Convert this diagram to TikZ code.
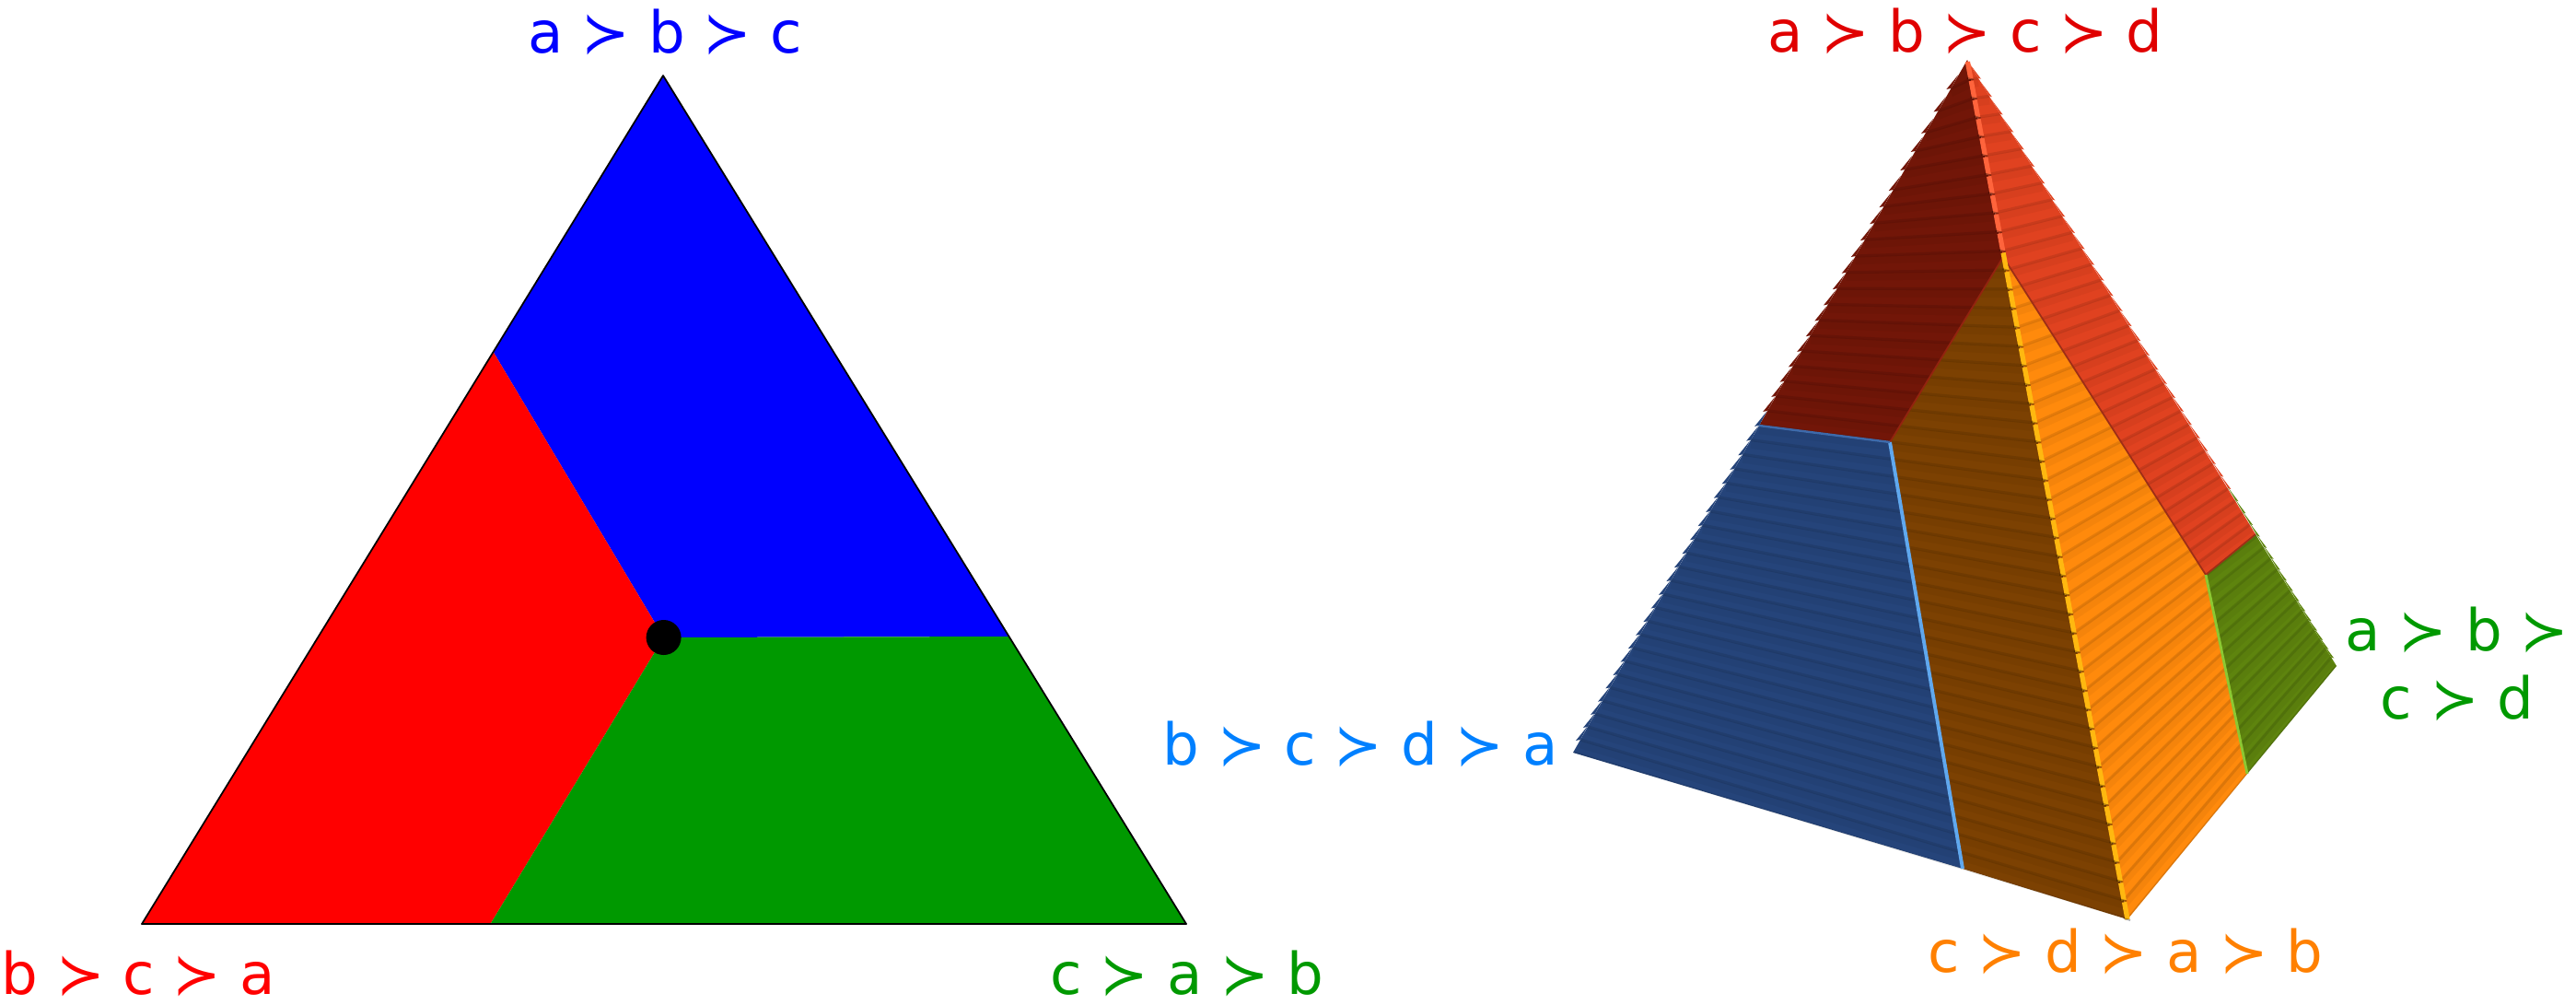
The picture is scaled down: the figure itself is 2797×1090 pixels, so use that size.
\documentclass[tikz,border=0pt]{standalone}
\usepackage{fontspec}
\setmainfont{DejaVu Sans}
\usepackage{xcolor}
\usetikzlibrary{calc, positioning}
\definecolor{blueregion}{RGB}{0, 0, 255}
\definecolor{redregion}{RGB}{255, 0, 0}
\definecolor{greenregion}{RGB}{0, 153, 0}
\definecolor{toplabel}{RGB}{224, 0, 0}
\definecolor{leftlabel}{RGB}{0, 128, 255}
\definecolor{bottomlabel}{RGB}{255, 128, 0}
\definecolor{darkred}{RGB}{114, 22, 8}
\definecolor{lightred}{RGB}{224, 66, 32}
\definecolor{slateblue}{RGB}{37, 68, 122}
\definecolor{darkbrown}{RGB}{124, 65, 2}
\definecolor{brightorange}{RGB}{255, 138, 12}
\definecolor{olive}{RGB}{94, 132, 14}
\definecolor{foldred}{RGB}{255, 100, 60}
\definecolor{foldyellow}{RGB}{255, 184, 16}
\definecolor{foldblue}{RGB}{96, 168, 238}
\definecolor{foldgreen}{RGB}{140, 200, 50}
\definecolor{ridgeblue}{RGB}{62, 106, 170}

\begin{document}
\begin{tikzpicture}[
    x=0.01cm, y=-0.01cm,
    order/.style = {font=\fontsize{17.8}{21}\selectfont, align=center, inner sep=0pt},
    stripe/.style = {black, opacity=0.1, line width=0.9pt},
    fold/.style = {line cap=butt, line width=1.1pt}
  ]
    \useasboundingbox (0,0) rectangle (2797,1090);

    % triangle
    \coordinate (ta) at (720,82);
    \coordinate (tb) at (154,1003);
    \coordinate (tc) at (1288,1003);
    \coordinate (tab) at (535.6,382);
    \coordinate (tac) at (1095.5,691);
    \coordinate (tbc) at (532.5,1003);
    \coordinate (tm) at (720.6,692);

    \fill[blueregion] (ta) -- (tab) -- (tm) -- (tac) -- cycle;
    \fill[redregion] (tab) -- (tm) -- (tbc) -- (tb) -- cycle;
    \fill[greenregion] (tm) -- (tac) -- (tc) -- (tbc) -- cycle;
    \draw[line width=0.5pt, line join=round] (ta) -- (tb) -- (tc) -- cycle;
    \node[circle, fill=black, inner sep=0pt, minimum size=0.38cm] (center) at (tm) {};

    \node[order, anchor=base, text=blueregion] (abc) at (722,57) {a ≻ b ≻ c};
    \node[order, anchor=base, text=redregion] (bca) at (150,1079) {b ≻ c ≻ a};
    \node[order, anchor=base, text=greenregion] (cab) at (1289,1079) {c ≻ a ≻ b};

    % pyramid
    \coordinate (apex) at (2136,65);
    \coordinate (pl) at (1708,817);
    \coordinate (pb) at (2310,998);
    \coordinate (pr) at (2537,723);
    \coordinate (ll) at (1910,462);
    \coordinate (lm) at (2052,480);
    \coordinate (lb) at (2131,943);
    \coordinate (ct) at (2175,279);
    \coordinate (rm) at (2395,624);
    \coordinate (rr) at (2449,580);
    \coordinate (rb) at (2440,840);

    \fill[darkred] (apex) -- (ll) -- (lm) -- (ct) -- cycle;
    \fill[slateblue] (ll) -- (lm) -- (lb) -- (pl) -- cycle;
    \fill[darkbrown] (lm) -- (ct) -- (pb) -- (lb) -- cycle;
    \fill[lightred] (apex) -- (rr) -- (rm) -- (ct) -- cycle;
    \fill[brightorange] (ct) -- (rm) -- (rb) -- (pb) -- cycle;
    \fill[olive] (rm) -- (rr) -- (pr) -- (rb) -- cycle;

    \begin{scope}
      \clip (apex) -- (pl) -- (pb) -- (pr) -- cycle;
      \foreach \i in {1,...,45} {
        \pgfmathsetmacro\c{\i/45}
        \pgfmathsetmacro\l{\c^(1/1.192)}
        \pgfmathsetmacro\r{\c*(1.36-0.36*\c)}
        \draw[stripe] ($(apex)!\l!(pl)$) -- ($(apex)!\c!(pb)$) -- ($(apex)!\r!(pr)$);
        \draw[stripe, opacity=0.04, line width=2.4pt] ($(apex)!\l!(pl)+(0,5)$) -- ($(apex)!\c!(pb)+(0,5)$) -- ($(apex)!\r!(pr)+(0,5)$);
      }
    \end{scope}

    % teeth on the outer edges
    \foreach \i in {1,...,44} {
      \pgfmathsetmacro\c{\i/45}
      \pgfmathsetmacro\l{\c^(1/1.192)}
      \pgfmathsetmacro\r{\c*(1.36-0.36*\c)}
      \ifnum\i<21 \def\lc{darkred}\else\def\lc{slateblue}\fi
      \ifnum\i<29 \def\rc{lightred}\else\def\rc{olive}\fi
      \fill[\lc] ($(apex)!\l!(pl)$) -- ++(-5,1) -- ++(13,-16) -- cycle;
      \fill[\rc] ($(apex)!\r!(pr)$) -- ++(3,1) -- ++(-12,-16) -- cycle;
    }

    \draw[fold, color=darkred!70!lightred, line width=0.5pt] (ct) -- (lm);
    \draw[fold, color=lightred!70!black, line width=0.5pt] (ct) -- (rm);
    \draw[fold, color=lightred!70!black, line width=0.5pt] (rm) -- (rr);
    \draw[fold, color=foldblue] (lm) -- (lb);
    \draw[fold, color=foldgreen, line width=0.8pt] (rm) -- (rb);
    \draw[fold, color=ridgeblue, line width=0.7pt] (ll) -- (lm);

    % fold between the two faces, one piece per stripe
    \foreach \i in {1,...,45} {
      \pgfmathsetmacro\c{\i/45}
      \pgfmathsetmacro\p{(\i-0.9)/45}
      \ifnum\i<11 \def\fc{foldred}\else\def\fc{foldyellow}\fi
      \draw[fold, color=\fc, line width=1.5pt] ($(apex)!\p!(pb)$) -- ($(apex)!\c!(pb)$);
      \draw[black, opacity=0.3, line width=0.5pt] ($(apex)!\c!(pb)+(-4,-1)$) -- ($(apex)!\c!(pb)+(3,1)$);
    }

    \node[order, anchor=base, text=toplabel] (abcd) at (2134,56) {a ≻ b ≻ c ≻ d};
    \node[order, anchor=base, text=leftlabel] (bcda) at (1477,830) {b ≻ c ≻ d ≻ a};
    \node[order, anchor=base, text=bottomlabel] (cdab) at (2308,1055) {c ≻ d ≻ a ≻ b};
    \node[order, text=greenregion] (abcdwrap) at (2668,721) {a ≻ b ≻\\c ≻ d};
  \end{tikzpicture}
\end{document}
